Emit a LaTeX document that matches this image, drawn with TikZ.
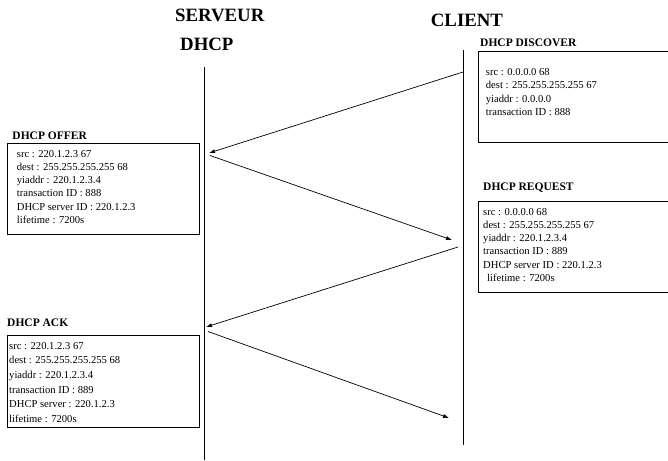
\documentclass[tikz,border=0pt]{standalone}
\usepackage{fontspec}
\setmainfont{Liberation Serif}
\usetikzlibrary{arrows.meta}
\begin{document}
\begin{tikzpicture}[x=1pt,y=-1pt,
  title/.style={font=\fontsize{18.8}{20}\selectfont\bfseries, anchor=base west, inner sep=0},
  lbl/.style={font=\fontsize{11.5}{13}\selectfont\bfseries, anchor=base west, inner sep=0},
  body/.style={font=\fontsize{10.6}{13.2}\selectfont, anchor=north west, inner sep=0, align=left},
  bodywide/.style={body, font=\fontsize{10.6}{14.6}\selectfont},
  msgbox/.style={draw, line width=0.8pt, anchor=north west, inner sep=0, minimum width=192, minimum height=91},
  lifeline/.style={line width=0.9pt},
  msg/.style={line width=0.7pt, -{Latex[length=6pt,width=4pt]}}]
\useasboundingbox (0,0) rectangle (668,460);

% titles
\node[title] (tserv) at (175,21.7) {SERVEUR};
\node[title] (tdhcp) at (180,50) {DHCP};
\node[title] (tcli) at (430.7,26.7) {CLIENT};

% lifelines
\coordinate (stop) at (204,67);
\coordinate (sbot) at (204,460);
\coordinate (ctop) at (463,50);
\coordinate (cbot) at (463,445);
\draw[lifeline] (stop) -- (sbot);
\draw[lifeline] (ctop) -- (cbot);

% DHCP DISCOVER
\node[lbl] (ldisc) at (480,46) {DHCP DISCOVER};
\node[msgbox] (bdisc) at (478,51) {};
\node[body] (tdisc) at (485.7,68.4) {src : 0.0.0.0 68\\dest : 255.255.255.255 67\\yiaddr : 0.0.0.0\\transaction ID : 888};

% DHCP OFFER
\node[lbl] (loffer) at (12.3,139) {DHCP OFFER};
\node[msgbox] (boffer) at (7,143) {};
\node[body] (toffer) at (16.7,150) {src : 220.1.2.3 67\\dest : 255.255.255.255 68\\yiaddr : 220.1.2.3.4\\transaction ID : 888\\DHCP server ID : 220.1.2.3\\lifetime : 7200s};

% DHCP REQUEST
\node[lbl] (lreq) at (483,190) {DHCP REQUEST};
\node[msgbox] (breq) at (478,201) {};
\node[body] (treq) at (483,208) {src : 0.0.0.0 68\\dest : 255.255.255.255 67\\yiaddr : 220.1.2.3.4\\transaction ID : 889\\DHCP server ID : 220.1.2.3\\\hspace{4pt}lifetime : 7200s};

% DHCP ACK
\node[lbl] (lack) at (7,326) {DHCP ACK};
\node[msgbox, minimum height=92] (back) at (7,335) {};
\node[bodywide] (tack) at (9,342) {src : 220.1.2.3 67\\dest : 255.255.255.255 68\\yiaddr : 220.1.2.3.4\\transaction ID : 889\\DHCP server : 220.1.2.3\\lifetime : 7200s};

% messages
\coordinate (m1a) at (463,72);
\coordinate (m1b) at (209,153);
\coordinate (m2a) at (210,155.5);
\coordinate (m2b) at (452,240);
\coordinate (m3a) at (458,247);
\coordinate (m3b) at (206,327);
\coordinate (m4a) at (208,331.5);
\coordinate (m4b) at (449,418);
\draw[msg] (m1a) -- (m1b);
\draw[msg] (m2a) -- (m2b);
\draw[msg] (m3a) -- (m3b);
\draw[msg] (m4a) -- (m4b);
\end{tikzpicture}
\end{document}
